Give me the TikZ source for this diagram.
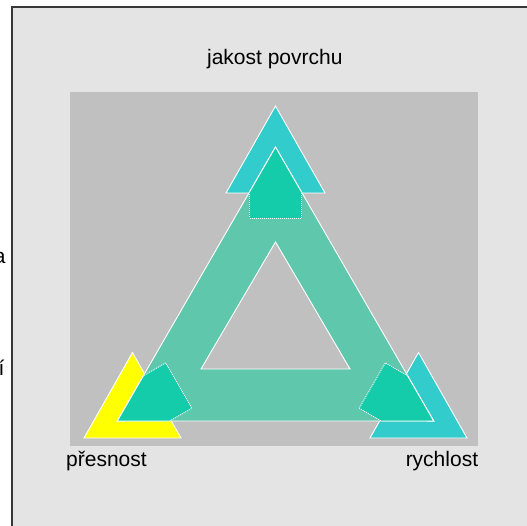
\documentclass[tikz,border=0pt]{standalone}
\usepackage{fontspec}
\setmainfont{Liberation Sans}
\definecolor{bgc}{HTML}{E4E4E4}
\definecolor{framec}{HTML}{383838}
\definecolor{panelc}{HTML}{C0C0C0}
\definecolor{cyanc}{HTML}{33CCCC}
\definecolor{yellowc}{HTML}{FFFF00}
\definecolor{bandc}{HTML}{5FC7AC}
\definecolor{tipc}{HTML}{15CCAA}
\tikzset{
  lbl/.style={font=\fontsize{21}{25}\selectfont, inner sep=0pt, text=black},
  headtri/.style={draw=white, line width=0.9pt, line join=miter},
  bandstyle/.style={fill=bandc, draw=white, line width=0.9pt, even odd rule},
  tipfill/.style={fill=tipc},
  tipdots/.style={draw=white, line width=0.9pt, dash pattern=on 1pt off 1pt},
  tipsolid/.style={draw=white, line width=0.9pt}
}
\begin{document}
\begin{tikzpicture}[x=1pt,y=-1pt]
\useasboundingbox (0,0) rectangle (527,526);
\clip (0,0) rectangle (527,526);
\fill[white] (0,0) rectangle (527,526);
% outer frame
\fill[bgc] (12,7) rectangle (540,540);
\draw[framec, line width=2pt] (12,540) -- (12,7) -- (540,7);
% clipped text fragments at the left
\node[lbl, anchor=base west] (fraga) at (-6.2,263.5) {a};
\node[lbl, anchor=base west] (fragi) at (-1.6,375) {í};
% panel
\fill[panelc] (70,92) rectangle (478,446);
% labels
\node[lbl, anchor=base] (top) at (274.8,64.5) {jakost povrchu};
\node[lbl, anchor=base west] (left) at (66,466.7) {přesnost};
\node[lbl, anchor=base east] (right) at (478.3,466.7) {rychlost};
% corner arrowheads
\filldraw[headtri, fill=cyanc] (275.5,106) -- (226,193) -- (325,193) -- cycle;
\filldraw[headtri, fill=yellowc] (132.5,352.5) -- (84,438) -- (181,438) -- cycle;
\filldraw[headtri, fill=cyanc] (418.5,352.5) -- (370,438) -- (467,438) -- cycle;
% triangular band
\coordinate (C) at (275.5,329.7);
\filldraw[bandstyle] (275.5,147) -- (117.2,421) -- (433.8,421) -- cycle
  (275.5,242) -- (201,369) -- (350,369) -- cycle;
% arrow tips of the band
\foreach \a in {0,120,-120} {
  \begin{scope}[rotate around={\a:(C)}]
    \fill[tipfill] (275.5,147) -- (249.3,192.4) -- (249.3,218) -- (301.7,218) -- (301.7,192.4) -- cycle;
    \draw[tipdots] (249.3,192.4) -- (249.3,218) -- (301.7,218) -- (301.7,192.4);
    \draw[tipsolid] (249.3,192.4) -- (275.5,147) -- (301.7,192.4);
  \end{scope}
}
\end{tikzpicture}
\end{document}
